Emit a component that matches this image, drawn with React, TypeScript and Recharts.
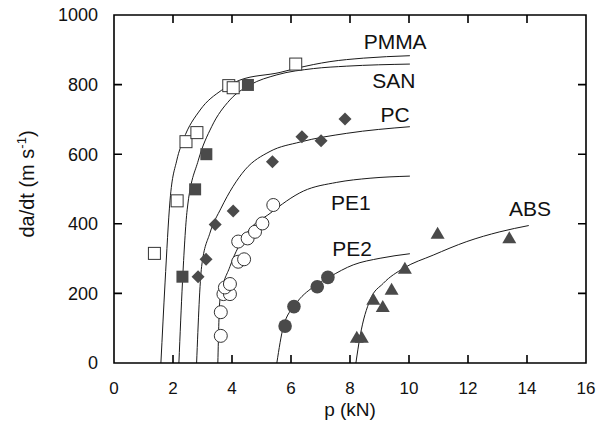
import React from 'react'
import {
  ComposedChart,
  Line,
  Scatter,
  XAxis,
  YAxis,
  ReferenceDot,
} from 'recharts'

// measured points, x = load p (kN), y = crack speed da/dt (m/s)
const pmma = [
  { x: 1.37, y: 315 }, { x: 2.14, y: 466 }, { x: 2.44, y: 636 }, { x: 2.81, y: 662 },
  { x: 3.89, y: 797 }, { x: 4.04, y: 791 }, { x: 6.16, y: 859 },
]
const san = [
  { x: 2.32, y: 248 }, { x: 2.75, y: 499 }, { x: 3.13, y: 600 }, { x: 4.54, y: 799 },
]
const pc = [
  { x: 2.85, y: 248 }, { x: 3.12, y: 298 }, { x: 3.43, y: 398 }, { x: 4.04, y: 437 },
  { x: 5.37, y: 578 }, { x: 6.37, y: 650 }, { x: 7.02, y: 639 }, { x: 7.83, y: 701 },
]
const pe1 = [
  { x: 3.62, y: 78 }, { x: 3.62, y: 146 }, { x: 3.71, y: 198 }, { x: 3.93, y: 198 },
  { x: 3.76, y: 217 }, { x: 3.93, y: 227 }, { x: 4.21, y: 291 }, { x: 4.41, y: 298 },
  { x: 4.21, y: 349 }, { x: 4.53, y: 358 }, { x: 4.78, y: 377 }, { x: 5.03, y: 401 },
  { x: 5.4, y: 454 },
]
const pe2 = [
  { x: 5.8, y: 106 }, { x: 6.1, y: 162 }, { x: 6.89, y: 219 }, { x: 7.25, y: 246 },
]
const abs = [
  { x: 8.23, y: 74 }, { x: 8.4, y: 74 }, { x: 8.79, y: 183 }, { x: 9.11, y: 162 },
  { x: 9.41, y: 212 }, { x: 9.86, y: 272 }, { x: 10.97, y: 373 }, { x: 13.4, y: 360 },
]

// fitted curves
const pmmaFit = [
  { x: 1.59, y: 0 }, { x: 1.73, y: 230 }, { x: 1.9, y: 468 }, { x: 2.13, y: 583 },
  { x: 2.35, y: 641 }, { x: 2.92, y: 727 }, { x: 3.65, y: 784 }, { x: 4.27, y: 813 },
  { x: 5.63, y: 835 }, { x: 6.19, y: 847 }, { x: 7.32, y: 866 }, { x: 8.45, y: 876 },
  { x: 10.03, y: 883 },
]
const sanFit = [
  { x: 2.2, y: 0 }, { x: 2.32, y: 230 }, { x: 2.48, y: 440 }, { x: 2.86, y: 583 },
  { x: 3.31, y: 679 }, { x: 3.93, y: 756 }, { x: 4.61, y: 799 }, { x: 5.52, y: 828 },
  { x: 6.76, y: 846 }, { x: 7.89, y: 853 }, { x: 10.03, y: 859 },
]
const pcFit = [
  { x: 2.8, y: 0 }, { x: 2.97, y: 277 }, { x: 3.25, y: 373 }, { x: 3.63, y: 445 },
  { x: 4.44, y: 555 }, { x: 5.29, y: 608 }, { x: 6.31, y: 635 }, { x: 7.89, y: 660 },
  { x: 10.03, y: 679 },
]
const pe1Fit = [
  { x: 3.52, y: 0 }, { x: 3.59, y: 181 }, { x: 3.93, y: 277 }, { x: 4.5, y: 373 },
  { x: 5.29, y: 430 }, { x: 6.42, y: 494 }, { x: 7.55, y: 519 }, { x: 8.68, y: 531 },
  { x: 10.03, y: 537 },
]
const pe2Fit = [
  { x: 5.52, y: 0 }, { x: 5.74, y: 104 }, { x: 6.14, y: 167 }, { x: 6.76, y: 219 },
  { x: 7.32, y: 248 }, { x: 8.11, y: 282 }, { x: 9.02, y: 301 }, { x: 10.03, y: 314 },
]
const absFit = [
  { x: 8.2, y: 0 }, { x: 8.34, y: 76 }, { x: 8.68, y: 181 }, { x: 9.13, y: 229 },
  { x: 9.81, y: 272 }, { x: 10.82, y: 310 }, { x: 11.96, y: 349 }, { x: 13.08, y: 377 },
  { x: 14.06, y: 395 },
]

const curveLabels = [
  { name: 'PMMA', x: 9.53, y: 925 },
  { name: 'SAN', x: 9.49, y: 813 },
  { name: 'PC', x: 9.53, y: 713 },
  { name: 'PE1', x: 8.03, y: 460 },
  { name: 'PE2', x: 8.07, y: 328 },
  { name: 'ABS', x: 14.1, y: 445 },
]

const xTicks = [0, 2, 4, 6, 8, 10, 12, 14, 16]
const yTicks = [0, 200, 400, 600, 800, 1000]
const X_MIN = 0
const X_MAX = 16
const Y_MIN = 0
const Y_MAX = 1000

const W = 603
const H = 431
const MARGIN = { top: 15, right: 17, left: 0, bottom: 0 }
const Y_AXIS_W = 114
const X_AXIS_H = 68
// plot box, same as what recharts lays out from the margins above
const PLOT = {
  left: MARGIN.left + Y_AXIS_W,
  right: W - MARGIN.right,
  top: MARGIN.top,
  bottom: H - MARGIN.bottom - X_AXIS_H,
}

const FONT = '"Liberation Sans", Arial, Helvetica, sans-serif'
const DARK = '#4a4a4a'
const INK = '#000'
const TICK = 8

const OpenSquare = (p: any) => (
  <rect x={p.cx - 6} y={p.cy - 6} width={12} height={12} fill="#fff" stroke="#333" strokeWidth={1} />
)
const FilledSquare = (p: any) => (
  <rect x={p.cx - 6} y={p.cy - 6} width={12} height={12} fill={DARK} />
)
const Diamond = (p: any) => (
  <path d={`M${p.cx},${p.cy - 6.5}L${p.cx + 6.5},${p.cy}L${p.cx},${p.cy + 6.5}L${p.cx - 6.5},${p.cy}Z`} fill={DARK} />
)
const OpenCircle = (p: any) => (
  <circle cx={p.cx} cy={p.cy} r={6.5} fill="#fff" stroke="#333" strokeWidth={1} />
)
const FilledCircle = (p: any) => <circle cx={p.cx} cy={p.cy} r={6.8} fill={DARK} />
const Triangle = (p: any) => (
  <path d={`M${p.cx},${p.cy - 6.5}L${p.cx + 7},${p.cy + 5.5}L${p.cx - 7},${p.cy + 5.5}Z`} fill={DARK} />
)

const YTitle = () => (
  <text
    x={34}
    y={184}
    transform="rotate(-90 34 184)"
    textAnchor="middle"
    fontFamily={FONT}
    fontSize={20}
    fill="#111"
  >
    da/dt (m s<tspan dy={-8} fontSize={13}>-1</tspan>
    <tspan dy={8}>)</tspan>
  </text>
)

// box frame with inward ticks on all four sides
const Frame = () => {
  const sx = (v: number) => PLOT.left + ((v - X_MIN) / (X_MAX - X_MIN)) * (PLOT.right - PLOT.left)
  const sy = (v: number) => PLOT.bottom - ((v - Y_MIN) / (Y_MAX - Y_MIN)) * (PLOT.bottom - PLOT.top)
  let d = `M${PLOT.left},${PLOT.top}H${PLOT.right}V${PLOT.bottom}H${PLOT.left}Z`
  xTicks.slice(1, -1).forEach(t => {
    d += `M${sx(t)},${PLOT.bottom}v${-TICK}M${sx(t)},${PLOT.top}v${TICK}`
  })
  yTicks.slice(1, -1).forEach(v => {
    d += `M${PLOT.left},${sy(v)}h${TICK}M${PLOT.right},${sy(v)}h${-TICK}`
  })
  return (
    <svg width={W} height={H} style={{ position: 'absolute', left: 0, top: 0, pointerEvents: 'none' }}>
      <path d={d} fill="none" stroke={INK} strokeWidth={1.6} />
    </svg>
  )
}

const fits = [pmmaFit, sanFit, pcFit, pe1Fit, pe2Fit, absFit]

const markers = [
  { d: pmma, shape: OpenSquare },
  { d: san, shape: FilledSquare },
  { d: pc, shape: Diamond },
  { d: pe1, shape: OpenCircle },
  { d: pe2, shape: FilledCircle },
  { d: abs, shape: Triangle },
]

export default function App() {
  return (
    <div style={{ position: 'absolute', left: 0, top: 0, width: W, height: H, background: '#fff' }}>
      <ComposedChart width={W} height={H} margin={MARGIN}>
        <XAxis
          type="number"
          dataKey="x"
          domain={[X_MIN, X_MAX]}
          ticks={xTicks}
          interval={0}
          height={X_AXIS_H}
          tickSize={0}
          tickMargin={19}
          tickLine={false}
          axisLine={false}
          tick={{ fill: '#111', fontSize: 17, fontFamily: FONT }}
          label={{ value: 'p (kN)', position: 'insideBottom', offset: 15, fill: '#111', fontSize: 19, fontFamily: FONT }}
        />
        <YAxis
          type="number"
          domain={[Y_MIN, Y_MAX]}
          ticks={yTicks}
          interval={0}
          width={Y_AXIS_W}
          tickSize={0}
          tickMargin={16}
          tickLine={false}
          axisLine={false}
          tick={{ fill: '#111', fontSize: 18, fontFamily: FONT }}
          label={{ content: () => <YTitle /> }}
        />
        {fits.map((d, i) => (
          <Line
            key={`l${i}`}
            data={d}
            dataKey="y"
            type="monotone"
            dot={false}
            stroke="#1a1a1a"
            strokeWidth={1}
            isAnimationActive={false}
          />
        ))}
        {markers.map((m, i) => (
          <Scatter key={`s${i}`} data={m.d} dataKey="y" shape={m.shape} isAnimationActive={false} />
        ))}
        {curveLabels.map(l => (
          <ReferenceDot
            key={l.name}
            x={l.x}
            y={l.y}
            r={1}
            fill="none"
            stroke="none"
            label={{ value: l.name, position: 'center', fill: '#111', fontSize: 21, fontFamily: FONT }}
          />
        ))}
      </ComposedChart>
      <Frame />
    </div>
  )
}
